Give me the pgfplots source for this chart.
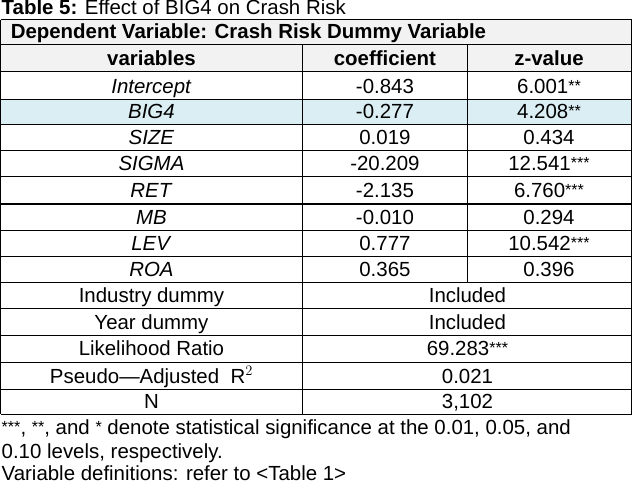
\documentclass[border=0pt]{standalone}
\usepackage{pgfplots}
\pgfplotsset{compat=1.18}
\usepackage{fontspec}
\setmainfont{Liberation Sans}
\definecolor{hdrgray}{HTML}{F2F2F2}
\definecolor{rowblue}{HTML}{DAEEF3}
\newcommand\sig[1]{\raisebox{2pt}{\fontsize{16}{16}\selectfont #1}}
\begin{document}
\begin{tikzpicture}[font=\fontsize{20.3}{24}\selectfont,
    cell/.style={anchor=base, inner sep=0pt}]
\begin{axis}[width=632pt, height=484pt, scale only axis, hide axis, clip=false,
    xmin=0, xmax=632, ymin=0, ymax=484, y dir=reverse,
    rule/.style={black, line width=1pt, mark=none, forget plot}]
  % shaded rows
  \addplot[fill=hdrgray, draw=none] coordinates {(2,22) (629,22) (629,73) (2,73)} -- cycle;
  \addplot[fill=rowblue, draw=none] coordinates {(2,101) (629,101) (629,126) (2,126)} -- cycle;
  % grid of the table
  \pgfplotsinvokeforeach{22,47,73,101,126,152,178,205,231,257,283,309,336,362,389,414}{
    \addplot[rule] coordinates {(2,#1) (629,#1)};
  }
  \addplot[rule] coordinates {(2,22) (2,414)};
  \addplot[rule] coordinates {(629,22) (629,414)};
  \addplot[rule] coordinates {(302,47) (302,414)};
  \addplot[rule] coordinates {(466,47) (466,283)};

  \node[cell, anchor=base west] at (axis cs:3,17) {\textbf{Table 5:} Effect of BIG4 on Crash Risk};
  \node[cell, anchor=base west] at (axis cs:12,41) {\textbf{Dependent Variable: Crash Risk Dummy Variable}};
  \node[cell] at (axis cs:152,67) {\textbf{variables}};
  \node[cell] at (axis cs:384,67) {\textbf{coefficient}};
  \node[cell] at (axis cs:547,67) {\textbf{z-value}};

  % regression rows
  \node[cell] at (axis cs:152,95) {\textit{Intercept}};
  \node[cell] at (axis cs:384,95) {-0.843};
  \node[cell] at (axis cs:547,95) {6.001\sig{**}};
  \node[cell] at (axis cs:152,120) {\textit{BIG4}};
  \node[cell] at (axis cs:384,120) {-0.277};
  \node[cell] at (axis cs:547,120) {4.208\sig{**}};
  \node[cell] at (axis cs:152,146) {\textit{SIZE}};
  \node[cell] at (axis cs:384,146) {0.019};
  \node[cell] at (axis cs:547,146) {0.434};
  \node[cell] at (axis cs:152,172) {\textit{SIGMA}};
  \node[cell] at (axis cs:384,172) {-20.209};
  \node[cell] at (axis cs:547,172) {12.541\sig{***}};
  \node[cell] at (axis cs:152,199) {\textit{RET}};
  \node[cell] at (axis cs:384,199) {-2.135};
  \node[cell] at (axis cs:547,199) {6.760\sig{***}};
  \node[cell] at (axis cs:152,225) {\textit{MB}};
  \node[cell] at (axis cs:384,225) {-0.010};
  \node[cell] at (axis cs:547,225) {0.294};
  \node[cell] at (axis cs:152,251) {\textit{LEV}};
  \node[cell] at (axis cs:384,251) {0.777};
  \node[cell] at (axis cs:547,251) {10.542\sig{***}};
  \node[cell] at (axis cs:152,277) {\textit{ROA}};
  \node[cell] at (axis cs:384,277) {0.365};
  \node[cell] at (axis cs:547,277) {0.396};

  % model rows
  \node[cell] at (axis cs:152,303) {Industry dummy};
  \node[cell] at (axis cs:466,303) {Included};
  \node[cell] at (axis cs:152,330) {Year dummy};
  \node[cell] at (axis cs:466,330) {Included};
  \node[cell] at (axis cs:152,356) {Likelihood Ratio};
  \node[cell] at (axis cs:466,356) {69.283\sig{***}};
  \node[cell] at (axis cs:152,383) {Pseudo---Adjusted\ \ $\mathrm{R}^2$};
  \node[cell] at (axis cs:466,383) {0.021};
  \node[cell] at (axis cs:152,408) {N};
  \node[cell] at (axis cs:466,408) {3,102};

  % notes
  \node[cell, anchor=base west] at (axis cs:3,434) {\sig{***}, \sig{**}, and \sig{*} denote statistical significance at the 0.01, 0.05, and};
  \node[cell, anchor=base west] at (axis cs:3,458) {0.10 levels, respectively.};
  \node[cell, anchor=base west] at (axis cs:3,480) {Variable definitions: refer to <Table 1>};
\end{axis}
\end{tikzpicture}
\end{document}
